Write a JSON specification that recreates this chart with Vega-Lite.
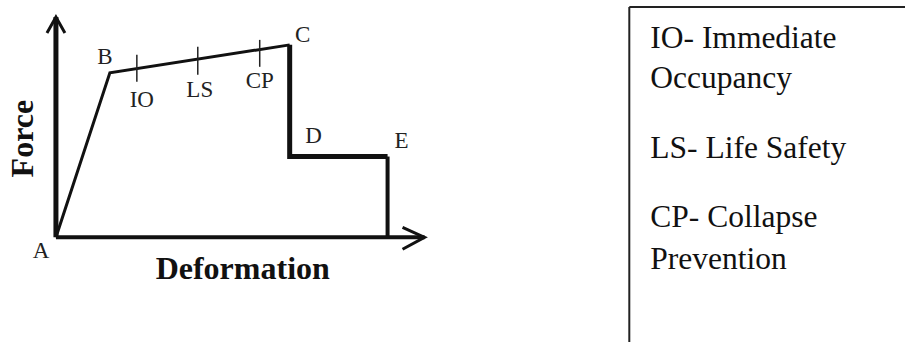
{
  "$schema": "https://vega.github.io/schema/vega-lite/v6.json",
  "width": 906,
  "height": 343,
  "autosize": {"type": "fit", "contains": "padding"},
  "padding": 0,
  "background": "white",
  "config": {"view": {"stroke": null}},
  "datasets": {
    "paths": [
      {"part": "elastic", "i": 1, "d": 0, "f": 0},
      {"part": "elastic", "i": 2, "d": 54, "f": 165},
      {"part": "elastic", "i": 3, "d": 234, "f": 193},
      {"part": "residual", "i": 1, "d": 234, "f": 193},
      {"part": "residual", "i": 2, "d": 234, "f": 81},
      {"part": "residual", "i": 3, "d": 332, "f": 81},
      {"part": "failure", "i": 1, "d": 332, "f": 81},
      {"part": "failure", "i": 2, "d": 332, "f": 0},
      {"part": "yaxis", "i": 1, "d": 0, "f": 0},
      {"part": "yaxis", "i": 2, "d": 0, "f": 221},
      {"part": "xaxis", "i": 1, "d": 0, "f": 0},
      {"part": "xaxis", "i": 2, "d": 369, "f": 0},
      {"part": "yarrow", "i": 1, "d": -9, "f": 205},
      {"part": "yarrow", "i": 2, "d": 0, "f": 221},
      {"part": "yarrow", "i": 3, "d": 9, "f": 205},
      {"part": "xarrow", "i": 1, "d": 347, "f": 10},
      {"part": "xarrow", "i": 2, "d": 369, "f": 0},
      {"part": "xarrow", "i": 3, "d": 347, "f": -12}
    ],
    "levels": [
      {"level": "IO", "d": 81, "lo": 156, "hi": 183, "ld": 86, "lf": 138},
      {"level": "LS", "d": 142, "lo": 163, "hi": 191, "ld": 144, "lf": 148},
      {"level": "CP", "d": 204, "lo": 171, "hi": 198, "ld": 204, "lf": 157}
    ],
    "points": [
      {"name": "A", "d": -15, "f": -14},
      {"name": "B", "d": 49, "f": 181},
      {"name": "C", "d": 247, "f": 203},
      {"name": "D", "d": 258, "f": 102},
      {"name": "E", "d": 346, "f": 97}
    ],
    "titles": [
      {"t": "Force", "d": -33, "f": 99, "a": 270},
      {"t": "Deformation", "d": 187, "f": -32, "a": 0}
    ],
    "legend": [
      {"line": "IO- Immediate", "d": 595, "f": 190},
      {"line": "Occupancy", "d": 595, "f": 150},
      {"line": "LS- Life Safety", "d": 595, "f": 80},
      {"line": "CP- Collapse", "d": 595, "f": 10},
      {"line": "Prevention", "d": 595, "f": -32}
    ],
    "box": [
      {"edge": "top", "d": 574, "d2": 850, "f": 231, "f2": 231},
      {"edge": "left", "d": 574, "d2": 574, "f": 231, "f2": -105}
    ]
  },
  "layer": [
    {
      "data": {"name": "paths"},
      "transform": [{"filter": "datum.part == 'elastic'"}],
      "mark": {"type": "line", "color": "#111", "strokeWidth": 3, "strokeJoin": "miter"},
      "encoding": {
        "x": {"field": "d", "type": "quantitative", "scale": {"domain": [-56, 850], "nice": false, "zero": false}, "axis": null},
        "y": {"field": "f", "type": "quantitative", "scale": {"domain": [-105, 238], "nice": false, "zero": false}, "axis": null},
        "order": {"field": "i"}
      }
    },
    {
      "data": {"name": "paths"},
      "transform": [{"filter": "datum.part == 'residual'"}],
      "mark": {"type": "line", "color": "#111", "strokeWidth": 5, "strokeJoin": "miter"},
      "encoding": {
        "x": {"field": "d", "type": "quantitative"},
        "y": {"field": "f", "type": "quantitative"},
        "order": {"field": "i"}
      }
    },
    {
      "data": {"name": "paths"},
      "transform": [{"filter": "datum.part == 'failure'"}],
      "mark": {"type": "line", "color": "#111", "strokeWidth": 4},
      "encoding": {
        "x": {"field": "d", "type": "quantitative"},
        "y": {"field": "f", "type": "quantitative"},
        "order": {"field": "i"}
      }
    },
    {
      "data": {"name": "paths"},
      "transform": [{"filter": "datum.part == 'yaxis'"}],
      "mark": {"type": "line", "color": "#111", "strokeWidth": 5},
      "encoding": {
        "x": {"field": "d", "type": "quantitative"},
        "y": {"field": "f", "type": "quantitative"},
        "order": {"field": "i"}
      }
    },
    {
      "data": {"name": "paths"},
      "transform": [{"filter": "datum.part == 'xaxis'"}],
      "mark": {"type": "line", "color": "#111", "strokeWidth": 4},
      "encoding": {
        "x": {"field": "d", "type": "quantitative"},
        "y": {"field": "f", "type": "quantitative"},
        "order": {"field": "i"}
      }
    },
    {
      "data": {"name": "paths"},
      "transform": [{"filter": "datum.part == 'yarrow' || datum.part == 'xarrow'"}],
      "mark": {"type": "line", "color": "#111", "strokeWidth": 3, "strokeJoin": "miter"},
      "encoding": {
        "x": {"field": "d", "type": "quantitative"},
        "y": {"field": "f", "type": "quantitative"},
        "detail": {"field": "part"},
        "order": {"field": "i"}
      }
    },
    {
      "data": {"name": "levels"},
      "mark": {"type": "rule", "color": "#222", "strokeWidth": 1.5},
      "encoding": {
        "x": {"field": "d", "type": "quantitative"},
        "y": {"field": "lo", "type": "quantitative"},
        "y2": {"field": "hi"}
      }
    },
    {
      "data": {"name": "levels"},
      "mark": {"type": "text", "font": "Liberation Serif", "fontSize": 23, "color": "#222", "align": "center", "baseline": "middle"},
      "encoding": {
        "x": {"field": "ld", "type": "quantitative"},
        "y": {"field": "lf", "type": "quantitative"},
        "text": {"field": "level"}
      }
    },
    {
      "data": {"name": "points"},
      "mark": {"type": "text", "font": "Liberation Serif", "fontSize": 23, "color": "#222", "align": "center", "baseline": "middle"},
      "encoding": {
        "x": {"field": "d", "type": "quantitative"},
        "y": {"field": "f", "type": "quantitative"},
        "text": {"field": "name"}
      }
    },
    {
      "data": {"name": "titles"},
      "mark": {"type": "text", "font": "Liberation Serif", "fontSize": 32, "fontWeight": "bold", "color": "#111", "align": "center", "baseline": "middle"},
      "encoding": {
        "x": {"field": "d", "type": "quantitative"},
        "y": {"field": "f", "type": "quantitative"},
        "angle": {"field": "a", "type": "quantitative", "scale": null},
        "text": {"field": "t"}
      }
    },
    {
      "data": {"name": "legend"},
      "mark": {"type": "text", "font": "Liberation Serif", "fontSize": 31.5, "color": "#111", "align": "left", "baseline": "alphabetic"},
      "encoding": {
        "x": {"field": "d", "type": "quantitative"},
        "y": {"field": "f", "type": "quantitative"},
        "text": {"field": "line"}
      }
    },
    {
      "data": {"name": "box"},
      "mark": {"type": "rule", "color": "#222", "strokeWidth": 2},
      "encoding": {
        "x": {"field": "d", "type": "quantitative"},
        "x2": {"field": "d2"},
        "y": {"field": "f", "type": "quantitative"},
        "y2": {"field": "f2"}
      }
    }
  ]
}
